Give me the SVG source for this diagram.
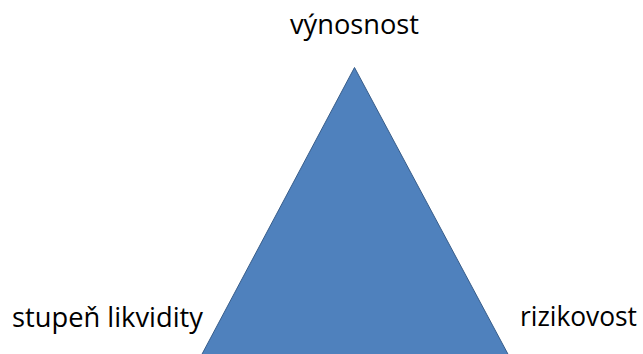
<svg xmlns="http://www.w3.org/2000/svg" width="643" height="354" viewBox="0 0 643 354">
  <style>
    .lbl { font-family: "Open Sans", "Liberation Sans", sans-serif; font-size: 27px; fill: #000; }
    .tri { fill: #4F81BD; stroke: #385D8A; stroke-width: 1; }
  </style>
  <rect width="643" height="354" fill="#fff"/>
  <g id="triangle">
    <polygon class="tri" points="354.5,67.5 201,356 509,356"/>
  </g>
  <g id="label-top">
    <text class="lbl" x="290" y="34" textLength="129" lengthAdjust="spacingAndGlyphs">výnosnost</text>
  </g>
  <g id="label-left">
    <text class="lbl" x="12" y="327" textLength="191" lengthAdjust="spacingAndGlyphs">stupeň likvidity</text>
  </g>
  <g id="label-right">
    <text class="lbl" x="520" y="326" textLength="117" lengthAdjust="spacingAndGlyphs">rizikovost</text>
  </g>
</svg>
